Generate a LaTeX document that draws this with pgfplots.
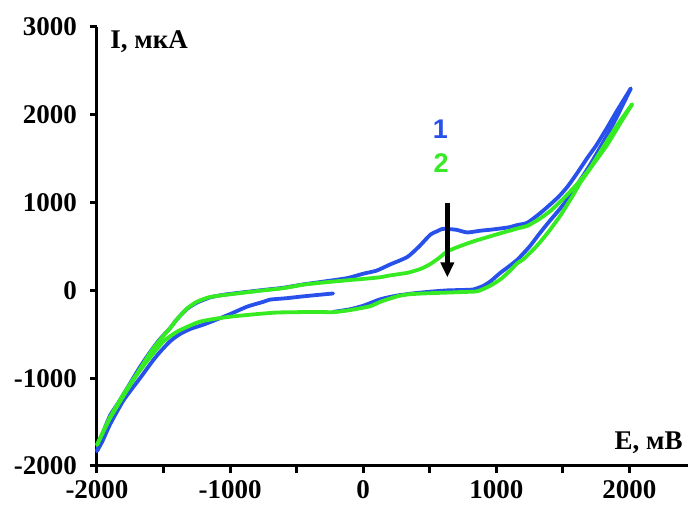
\documentclass[border=0pt]{standalone}
\usepackage{fontspec}
\setmainfont{Liberation Serif}
\newfontfamily\sansb{Liberation Sans}
\usepackage{pgfplots}
\pgfplotsset{compat=1.18}
\usetikzlibrary{arrows.meta}
\definecolor{cvblue}{RGB}{40,80,235}
\definecolor{cvgreen}{RGB}{55,235,35}
\begin{document}
\begin{tikzpicture}
\begin{axis}[name=ax, width=295.5pt, height=219.5pt, scale only axis,
 xmin=-2000, xmax=2440, ymin=-2000, ymax=3000,
 axis lines*=left, axis line style={line width=1.5pt, black},
 xtick={-2000,-1000,0,1000,2000}, minor xtick={-1500,-500,500,1500},
 ytick={-2000,-1000,0,1000,2000,3000},
 tick align=outside, major tick length=3.5pt, minor tick length=3.5pt,
 tick style={black, line width=1.5pt},
 scaled ticks=false,
 /pgf/number format/assume math mode=true,
 /pgf/number format/1000 sep={},
 tick label style={font=\fontsize{13.5}{15}\selectfont\bfseries},
 yticklabel style={xshift=-3pt},
 clip=false,
 every axis plot/.append style={line width=1.9pt, line join=round, line cap=round, smooth, tension=0.35},
]
% curve 1: forward branch from the start
\addplot[cvblue] coordinates {
(-226,-245) (-100,-215) (0,-175) (130,-100) (250,-60) (376,-34) (500,-15)
(632,0) (750,5) (827,11) (900,50) (955,102) (1030,200) (1083,260) (1158,350)
(1250,500) (1331,660) (1406,800) (1481,934) (1550,1070) (1609,1207) (1700,1420)
(1800,1680) (1900,1960) (2010,2300)
};
% curve 1: reverse branch
\addplot[cvblue] coordinates {
(2010,2300) (1900,2030) (1835,1860) (1750,1650) (1684,1510) (1600,1320) (1534,1180)
(1470,1070) (1406,980) (1330,880) (1233,770) (1158,745) (1100,720) (1030,705)
(950,690) (880,680) (782,660) (700,690) (632,700) (594,700) (550,670) (504,635)
(420,500) (331,380) (203,296) (100,225) (0,190) (-120,140) (-300,100) (-451,68)
(-600,30) (-750,5) (-947,-30) (-1050,-50) (-1150,-80) (-1250,-140) (-1323,-210)
(-1400,-330) (-1451,-430) (-1530,-560) (-1600,-700) (-1680,-880) (-1760,-1080)
(-1840,-1280) (-1900,-1420) (-1950,-1600) (-2000,-1830)
};
% curve 1: second forward branch
\addplot[cvblue] coordinates {
(-2000,-1830) (-1960,-1720) (-1900,-1520) (-1800,-1250) (-1677,-1000) (-1580,-800)
(-1526,-700) (-1451,-580) (-1380,-500) (-1300,-440) (-1200,-390) (-1098,-330)
(-1000,-270) (-872,-185) (-750,-130) (-699,-105) (-571,-88) (-451,-68)
(-330,-50) (-226,-35)
};
% curve 2: forward branch
\addplot[cvgreen] coordinates {
(-2000,-1760) (-1950,-1600) (-1900,-1450) (-1800,-1200) (-1700,-960)
(-1600,-760) (-1500,-580) (-1398,-470) (-1300,-400) (-1225,-355) (-1100,-320)
(-977,-296) (-800,-270) (-647,-252) (-500,-248) (-350,-245) (-226,-248)
(-100,-225) (53,-180) (128,-130) (250,-70) (331,-46) (450,-35)
(632,-25) (750,-18) (857,-10) (950,50) (1030,125) (1100,220) (1158,310)
(1203,355) (1300,500) (1383,650) (1480,850) (1579,1090) (1632,1230)
(1730,1440) (1835,1663) (1930,1900) (2020,2120)
};
% curve 2: reverse branch
\addplot[cvgreen] coordinates {
(2020,2120) (1930,1930) (1835,1710) (1707,1400) (1640,1270) (1579,1165) (1500,1040)
(1406,905) (1320,810) (1233,735) (1158,705) (1030,650) (930,605) (827,558)
(720,500) (632,444) (570,370) (504,300) (440,250) (376,218) (331,200)
(200,170) (128,150) (53,138) (-120,115) (-300,90) (-451,65) (-600,25)
(-750,0) (-947,-35) (-1150,-75) (-1250,-130) (-1323,-205) (-1400,-330)
(-1451,-430) (-1530,-570) (-1600,-710) (-1700,-950) (-1800,-1180)
(-1900,-1440) (-2000,-1760)
};
\draw[black, line width=2.5pt, -{Triangle[length=7.5pt,width=6.5pt]}]
  (axis cs:632,990) -- (axis cs:632,148);
\node[cvblue, font=\fontsize{13.5}{15}\selectfont\sansb\bfseries] at (axis cs:580,1834) {1};
\node[cvgreen, font=\fontsize{13.5}{15}\selectfont\sansb\bfseries] at (axis cs:585,1446) {2};
\node[anchor=west, inner sep=0pt, font=\fontsize{13.5}{15}\selectfont\bfseries]
  at ([xshift=6.5pt,yshift=-7.5pt]rel axis cs:0,1) {I, мкА};
\node[anchor=east, inner sep=0pt, font=\fontsize{13.5}{15}\selectfont\bfseries]
  at ([xshift=-2.5pt,yshift=11.5pt]rel axis cs:1,0) {E, мВ};
\end{axis}
\path ([shift={(-48.5pt,-19pt)}]ax.south west) rectangle ([shift={(296.5pt,233pt)}]ax.south west);
\end{tikzpicture}
\end{document}
